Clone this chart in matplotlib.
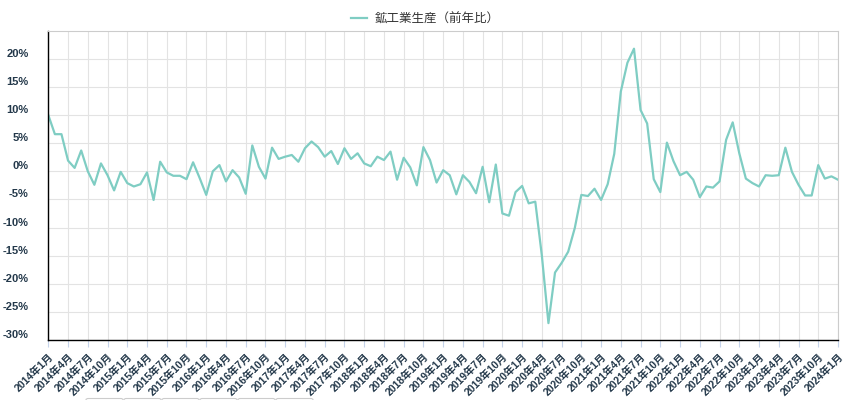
import matplotlib
matplotlib.use('Agg')
import matplotlib.pyplot as plt
from matplotlib.patches import FancyBboxPatch

plt.rcParams['font.family'] = ['Liberation Sans', 'Noto Sans CJK JP', 'DejaVu Sans']

# 鉱工業生産（前年比） monthly, 2014年1月 .. 2024年1月 (%)
series_name = '鉱工業生産（前年比）'
values = [
    10.0, 6.6, 6.6, 1.9, 0.6, 3.7, 0.0, -2.4, 1.4, -0.7, -3.4, -0.1,
    -2.1, -2.7, -2.3, -0.2, -5.1, 1.7, -0.2, -0.8, -0.8, -1.4, 1.6, -1.2,
    -4.2, 0.0, 1.1, -1.8, 0.2, -1.1, -4.0, 4.6, 0.8, -1.3, 4.2, 2.2,
    2.6, 2.9, 1.7, 4.1, 5.3, 4.3, 2.6, 3.6, 1.3, 4.1, 2.2, 3.2,
    1.4, 0.9, 2.6, 2.0, 3.5, -1.5, 2.4, 0.7, -2.5, 4.3, 2.0, -2.0,
    0.2, -0.7, -4.1, -0.7, -1.9, -3.9, 0.8, -5.5, 1.2, -7.5, -7.9, -3.7,
    -2.6, -5.7, -5.4, -15.0, -27.0, -18.0, -16.3, -14.3, -10.1, -4.2, -4.4, -3.1,
    -5.1, -2.3, 3.1, 14.2, 19.3, 21.8, 10.9, 8.5, -1.4, -3.7, 5.1, 1.8,
    -0.7, -0.1, -1.5, -4.6, -2.7, -2.9, -1.8, 5.6, 8.7, 3.2, -1.3, -2.1,
    -2.7, -0.7, -0.8, -0.7, 4.2, -0.1, -2.4, -4.3, -4.3, 1.1, -1.3, -0.9,
    -1.5,
]
months = [f'{2014 + i // 12}年{i % 12 + 1}月' for i in range(len(values))]
y_ticks = [-30, -25, -20, -15, -10, -5, 0, 5, 10, 15, 20]

line_color = '#7fcdc3'
label_color = '#23384a'

fig = plt.figure(figsize=(8.5, 4), dpi=100)
ax = fig.add_axes([48.3 / 850, 1 - 340 / 400, (838 - 48.3) / 850, (340 - 30.7) / 400])

x = list(range(len(values)))
ax.plot(x, values, color=line_color, linewidth=1.6, label=series_name)

ax.set_xlim(0, len(values) - 1)
ax.set_ylim(-30, 25)

tick_pos = x[::3]
ax.set_xticks(tick_pos)
ax.set_xticklabels(months[::3], rotation=45, ha='right', va='top',
                   rotation_mode='anchor', fontsize=7.5, fontweight='bold',
                   color=label_color)
ax.set_yticks(y_ticks)
ax.set_yticklabels([f'{v}%' for v in y_ticks], fontsize=8, fontweight='bold',
                   color=label_color, va='bottom')

ax.tick_params(axis='x', length=5, width=0.8, color='#c5d3ea', pad=3)
ax.tick_params(axis='y', length=0, pad=14)

ax.grid(True, color='#e3e3e3', linewidth=0.8)
ax.set_axisbelow(True)
for side in ['top', 'right']:
    ax.spines[side].set_color('#cccccc')
    ax.spines[side].set_linewidth(0.8)
for side in ['left', 'bottom']:
    ax.spines[side].set_color('black')
    ax.spines[side].set_linewidth(1.0)

fig.legend(loc='upper center', bbox_to_anchor=(0.5, 0.995), frameon=False,
           fontsize=9, handlelength=1.3, handletextpad=0.6,
           labelcolor='#333333')

# cropped buttons at the bottom edge
for i in range(6):
    left = 86 + i * 38
    fig.patches.append(FancyBboxPatch((left / 850, -0.02), 37 / 850, 0.02 + 1.5 / 400,
                                      boxstyle='round,pad=0,rounding_size=0.003',
                                      transform=fig.transFigure, facecolor='white',
                                      edgecolor='#cccccc', linewidth=0.8))

fig.savefig('out.png', dpi=100)
